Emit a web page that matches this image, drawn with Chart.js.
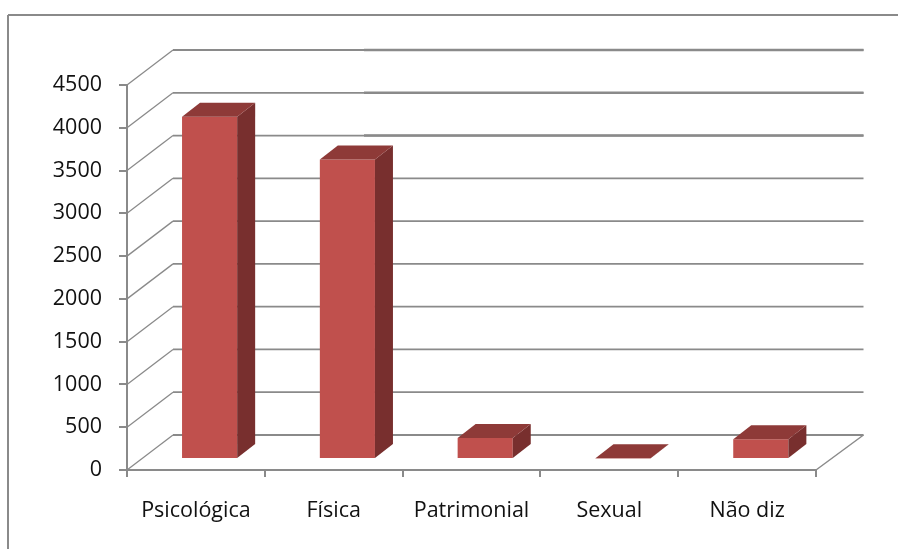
<!DOCTYPE html>
<html><head><meta charset="utf-8">
<style>html,body{margin:0;padding:0;background:#fff}canvas{display:block}</style>
<script src="https://cdn.jsdelivr.net/npm/chart.js@4"></script>
</head><body><canvas id="c" width="898" height="549"></canvas>
<script>
const categories = ["Psicológica", "Física", "Patrimonial", "Sexual", "Não diz"];
const values = [4000, 3500, 245, 8, 230];
const yMax = 4500;
const yStep = 500;

const GREY = "#8a8a8a", FONT = "'Open Sans'";
const WALL = {dx: 46, dy: -35, rightDx: 47.5};  // front plane to back wall
const SHIFT = {dx: 13.7, dy: -11};    // bar front face inside the floor
const DEPTH = {dx: 18, dy: -14};      // bar depth

function line(ctx, x1, y1, x2, y2, w) {
  ctx.lineWidth = w; ctx.strokeStyle = GREY;
  ctx.beginPath(); ctx.moveTo(x1, y1); ctx.lineTo(x2, y2); ctx.stroke();
}
function poly(ctx, pts, fill) {
  ctx.fillStyle = fill; ctx.beginPath();
  pts.forEach((p, i) => i ? ctx.lineTo(p[0], p[1]) : ctx.moveTo(p[0], p[1]));
  ctx.closePath(); ctx.fill();
}
const scene = {
  id: "scene",
  beforeDatasetsDraw(chart) {
    const {ctx, chartArea: a, scales: {y}} = chart;
    ctx.save();
    // outer frame (top and left edges)
    line(ctx, 8, 15, chart.width, 15, 2);
    line(ctx, 8, 15, 8, chart.height, 2);
    // walls
    y.ticks.forEach(t => {
      const py = y.getPixelForValue(t.value);
      line(ctx, a.left, py, a.left + WALL.dx, py + WALL.dy, 1.3);
      line(ctx, a.left + WALL.dx, py + WALL.dy, a.right + WALL.rightDx, py + WALL.dy, 1.8);
      if (t.value >= 3500) line(ctx, 364, py + WALL.dy, a.right + WALL.rightDx, py + WALL.dy, 2.6);
    });
    line(ctx, a.right, a.bottom, a.right + WALL.rightDx, a.bottom + WALL.dy, 1.5);
    ctx.restore();
  },
  beforeDatasetDraw(chart) {
    chart.ctx.save();
    chart.ctx.translate(SHIFT.dx, SHIFT.dy);
  },
  afterDatasetDraw(chart, args) {
    const ctx = chart.ctx;
    args.meta.data.forEach(b => {
      const p = b.getProps(["x", "y", "base", "width"], true);
      const l = p.x - p.width / 2, r = p.x + p.width / 2;
      poly(ctx, [[r, p.y], [r + DEPTH.dx, p.y + DEPTH.dy], [r + DEPTH.dx, p.base + DEPTH.dy], [r, p.base]], "#782f2e");
      poly(ctx, [[l, p.y], [r, p.y], [r + DEPTH.dx, p.y + DEPTH.dy], [l + DEPTH.dx, p.y + DEPTH.dy]], "#8e3a38");
    });
    ctx.restore();
  }
};

new Chart(document.getElementById("c"), {
  type: "bar",
  data: {labels: categories, datasets: [{data: values, backgroundColor: "#c0504d", borderWidth: 0,
    barPercentage: 0.4, categoryPercentage: 1}]},
  plugins: [scene],
  options: {
    responsive: false, animation: false,
    layout: {padding: {left: 0, top: 85, right: 82, bottom: 0}},
    plugins: {legend: {display: false}, title: {display: false}, tooltip: {enabled: false}},
    scales: {
      x: {
        afterFit(s) { s.height = 79; },
        grid: {drawOnChartArea: false, color: GREY, lineWidth: 2, tickLength: 7},
        border: {color: GREY, width: 2},
        ticks: {color: "#111", font: {family: FONT, size: 21.5}, padding: 21, maxRotation: 0}
      },
      y: {
        min: 0, max: yMax,
        afterFit(s) { s.width = 127; },
        grid: {drawOnChartArea: false, color: GREY, lineWidth: 2, tickLength: 8},
        border: {color: GREY, width: 2},
        ticks: {stepSize: yStep, color: "#111", font: {family: FONT, size: 21.5}, padding: 17,
          callback: v => String(v)}
      }
    }
  }
});
</script></body></html>
